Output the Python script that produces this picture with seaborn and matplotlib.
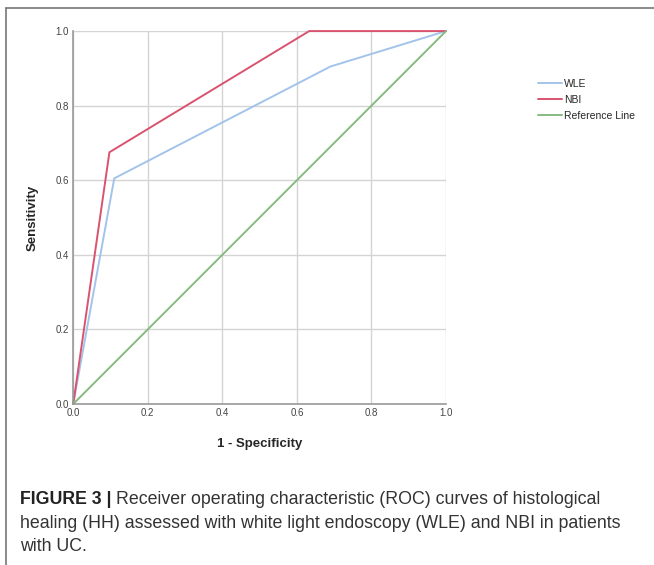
import numpy as np
import pandas as pd
import matplotlib
matplotlib.use("Agg")
import matplotlib.pyplot as plt
import seaborn as sns
from matplotlib.lines import Line2D

# ROC points
wle_fpr = [0.0, 0.11, 0.69, 1.0]
wle_tpr = [0.0, 0.605, 0.905, 1.0]
nbi_fpr = [0.0, 0.097, 0.633, 1.0]
nbi_tpr = [0.0, 0.675, 1.0, 1.0]
ref_fpr = [0.0, 1.0]
ref_tpr = [0.0, 1.0]

ticks = [0.0, 0.2, 0.4, 0.6, 0.8, 1.0]
series_names = ["WLE", "NBI", "Reference Line"]
colors = {"WLE": "#a3c4ea", "NBI": "#d9536f", "Reference Line": "#86bb80"}

df = pd.concat([
    pd.DataFrame({"fpr": wle_fpr, "tpr": wle_tpr, "curve": "WLE"}),
    pd.DataFrame({"fpr": nbi_fpr, "tpr": nbi_tpr, "curve": "NBI"}),
    pd.DataFrame({"fpr": ref_fpr, "tpr": ref_tpr, "curve": "Reference Line"}),
], ignore_index=True)

sns.set_style("white")
plt.rcParams['font.family'] = ['Liberation Sans', 'DejaVu Sans']

fig = plt.figure(figsize=(6.54, 5.65), dpi=100)
ax = fig.add_axes([0.112, 0.285, 0.570, 0.660])

sns.lineplot(data=df, x="fpr", y="tpr", hue="curve", palette=colors,
             hue_order=series_names, sort=False, estimator=None,
             linewidth=1.4, ax=ax, legend=False)
for ln in ax.lines:
    ln.set_clip_on(False)

ax.set_xlim(0, 1)
ax.set_ylim(0, 1)
ax.set_xticks(ticks)
ax.set_yticks(ticks)
ax.set_xticklabels([f"{t:.1f}" for t in ticks])
ax.set_yticklabels([f"{t:.1f}" for t in ticks])
ax.tick_params(axis="both", labelsize=7, colors="#444444", length=0, pad=3)
ax.grid(True, color="#d4d4d4", linewidth=1.0)
ax.set_axisbelow(True)
for s in ["top", "right"]:
    ax.spines[s].set_visible(False)
for s in ["left", "bottom"]:
    ax.spines[s].set_color("#999999")
    ax.spines[s].set_linewidth(1.2)

ax.set_xlabel("1 - Specificity", fontsize=9.5, fontweight="bold", labelpad=14)
ax.set_ylabel("Sensitivity", fontsize=9.5, fontweight="bold", labelpad=12)

handles = [Line2D([0], [0], color=colors[n], lw=1.4) for n in series_names]
fig.legend(handles, series_names, loc="upper left", bbox_to_anchor=(0.822, 0.86),
           frameon=False, fontsize=7.5, handlelength=2.3, handletextpad=0.2,
           labelspacing=0.55, borderaxespad=0, borderpad=0)

# frame around figure panel
fig.add_artist(Line2D([0.009, 0.009], [0.0, 0.986], color="#777777", lw=1.2,
                      transform=fig.transFigure))
fig.add_artist(Line2D([0.009, 1.0], [0.986, 0.986], color="#777777", lw=1.2,
                      transform=fig.transFigure))

# caption
cap_size = 12.8
t1 = fig.text(0.031, 0.108, "FIGURE 3 |", fontsize=cap_size, fontweight="bold",
              color="#222222")
fig.canvas.draw()
bb = t1.get_window_extent()
x_next = (bb.x1 + 4) / fig.bbox.width
fig.text(x_next, 0.108, "Receiver operating characteristic (ROC) curves of histological",
         fontsize=cap_size, color="#333333")
fig.text(0.031, 0.066, "healing (HH) assessed with white light endoscopy (WLE) and NBI in patients",
         fontsize=cap_size, color="#333333")
fig.text(0.031, 0.025, "with UC.", fontsize=cap_size, color="#333333")

fig.savefig("out.png", dpi=100)
